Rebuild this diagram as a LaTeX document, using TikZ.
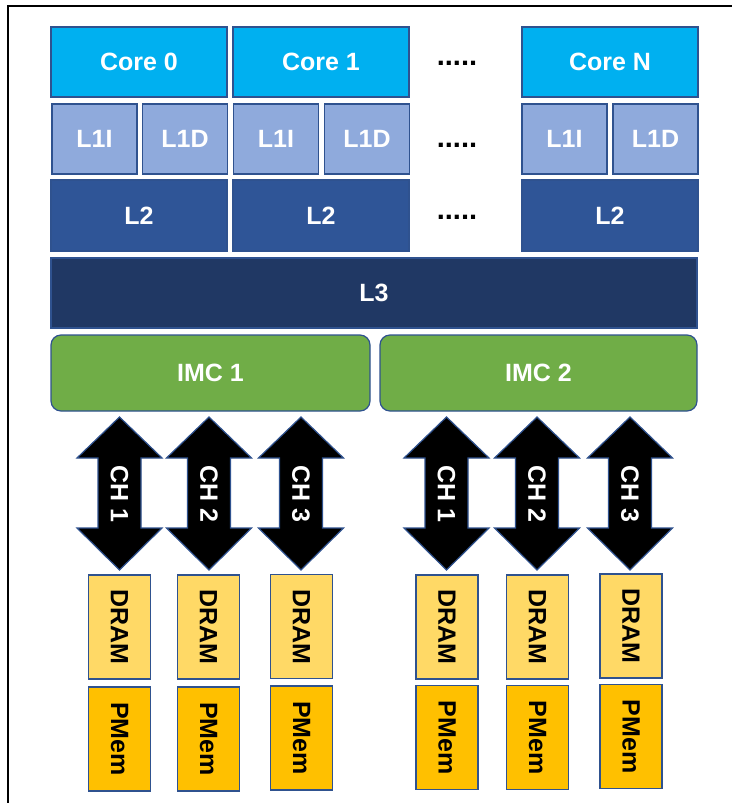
\documentclass[tikz,border=0pt]{standalone}
\usepackage{fontspec}
\setmainfont{Liberation Sans}
\usetikzlibrary{calc}

\definecolor{corec}{HTML}{00B0F0}
\definecolor{lonec}{HTML}{8FAADC}
\definecolor{ltwoc}{HTML}{2F5597}
\definecolor{lthreec}{HTML}{203864}
\definecolor{imcc}{HTML}{70AD47}
\definecolor{dramc}{HTML}{FFD966}
\definecolor{pmemc}{HTML}{FFC000}
\definecolor{edgec}{HTML}{2F528F}

\newcommand{\chanarrow}[3]{%
  \coordinate (#2t) at (#1,417);
  \coordinate (#2b) at (#1,570);
  \draw[chan] (#2t) -- ++(42.5,41) -- ++(-21,0) -- ++(0,70) -- ++(21,0)
    -- (#2b) -- ++(-42.5,-42) -- ++(21,0) -- ++(0,-70) -- ++(-21,0) -- cycle;
  \node[chanlabel] (#2l) at ($(#2t)!0.5!(#2b)$) {#3};
}

\begin{document}
\begin{tikzpicture}[x=1pt,y=-1pt,
  txt/.style={font=\bfseries\fontsize{25}{30}\selectfont},
  box/.style={txt, draw=edgec, line width=1.2pt, inner sep=0pt, text=white},
  core/.style={box, fill=corec, minimum width=176pt, minimum height=70pt},
  lone/.style={box, fill=lonec, minimum width=85pt, minimum height=70pt},
  ltwo/.style={box, fill=ltwoc, minimum width=176pt, minimum height=71pt},
  lthree/.style={box, fill=lthreec, minimum width=646pt, minimum height=70pt},
  imc/.style={box, fill=imcc, rounded corners=10pt, minimum height=76pt},
  mem/.style={box, text=black, rotate=-90, minimum width=104pt, minimum height=62pt},
  dram/.style={mem, fill=dramc},
  pmem/.style={mem, fill=pmemc},
  dots/.style={font=\bfseries\fontsize{29}{32}\selectfont, text=black},
  chan/.style={fill=black, draw=edgec, line width=1.2pt, line join=miter},
  chanlabel/.style={txt, text=white, rotate=-90, inner sep=0pt},
]
\useasboundingbox (0,0) rectangle (731,803);

% outer frame
\draw[line width=2.4pt] (8,830) -- (8,6) -- (760,6);

% cores
\node[core] (c0) at (139,62) {Core 0};
\node[core] (c1) at (321,62) {Core 1};
\node[core] (cn) at (610,62) {Core N};

% first level caches
\node[lone] (i0) at (94.5,139) {L1I};
\node[lone] (d0) at (185,139) {L1D};
\node[lone] (i1) at (276,139) {L1I};
\node[lone] (d1) at (367,139) {L1D};
\node[lone] (in) at (564.5,139) {L1I};
\node[lone] (dn) at (655.5,139) {L1D};

% second level caches
\node[ltwo] (m0) at (139,215.5) {L2};
\node[ltwo] (m1) at (321,215.5) {L2};
\node[ltwo] (mn) at (610,215.5) {L2};

% ellipsis between core columns
\node[dots] (e0) at (457,63) {.....};
\node[dots] (e1) at (457,145) {.....};
\node[dots] (e2) at (457,217) {.....};

% shared last level cache
\node[lthree] (l3) at (374,293) {L3};

% memory controllers
\node[imc, minimum width=319pt] (imc1) at (210.5,373) {IMC 1};
\node[imc, minimum width=317pt] (imc2) at (538.5,373) {IMC 2};

% memory channels
\chanarrow{119.5}{a1}{CH 1}
\chanarrow{209}{a2}{CH 2}
\chanarrow{301}{a3}{CH 3}
\chanarrow{446.5}{a4}{CH 1}
\chanarrow{537}{a5}{CH 2}
\chanarrow{630}{a6}{CH 3}

% DIMMs
\node[dram] (r1) at (119.5,627) {DRAM};
\node[dram] (r2) at (208.5,627) {DRAM};
\node[dram] (r3) at (301.5,626.5) {DRAM};
\node[dram] (r4) at (447,627) {DRAM};
\node[dram] (r5) at (537.5,627) {DRAM};
\node[dram] (r6) at (631,626) {DRAM};

\node[pmem] (p1) at (119.5,739) {PMem};
\node[pmem] (p2) at (208.5,739) {PMem};
\node[pmem] (p3) at (301.5,738) {PMem};
\node[pmem] (p4) at (447,737.5) {PMem};
\node[pmem] (p5) at (537.5,737.5) {PMem};
\node[pmem] (p6) at (631,736.5) {PMem};
\end{tikzpicture}
\end{document}
